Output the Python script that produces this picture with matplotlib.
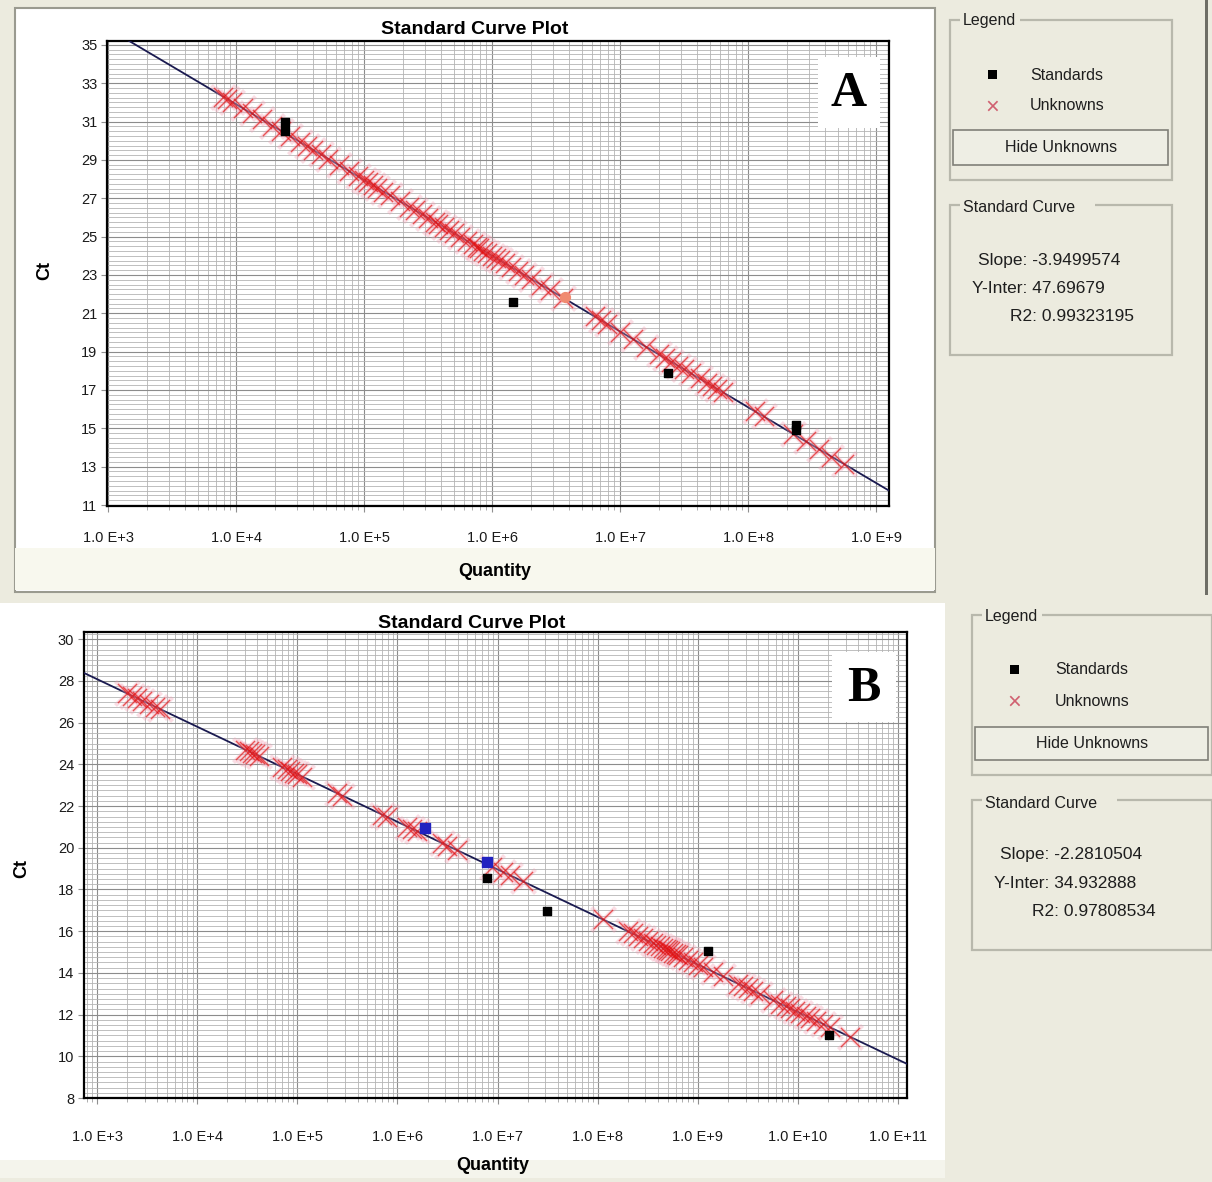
import numpy as np
import matplotlib
matplotlib.use("Agg")
import matplotlib.pyplot as plt
from matplotlib.patches import Rectangle
from matplotlib.ticker import FixedLocator, MultipleLocator, LogLocator, NullFormatter

plt.rcParams['font.family'] = ['Liberation Sans', 'DejaVu Sans']

W, H = 1212, 1182

# ---- panel A data ----
std_a_exp = [4.38, 4.38, 6.16, 7.375, 8.375, 8.375]
std_a_ct = [31.0, 30.5, 21.6, 17.9, 15.2, 14.9]
hl_a_exp = [6.57]
hl_a_ct = [21.85]
unk_a_exp = [3.90, 3.93, 3.97, 4.05, 4.12, 4.20, 4.28, 4.35, 4.42, 4.50, 4.55, 4.60,
             4.66, 4.72, 4.80, 4.88, 4.95, 5.00, 5.03, 5.07, 5.10, 5.15, 5.20, 5.28,
             5.35, 5.40, 5.45, 5.50, 5.55, 5.58, 5.62, 5.66, 5.70, 5.75, 5.80, 5.85,
             5.88, 5.90, 5.93, 5.96, 6.00, 6.03, 6.06, 6.10, 6.15, 6.20, 6.25, 6.30,
             6.38, 6.45, 6.55, 6.80, 6.85, 6.90, 7.00, 7.10, 7.20, 7.30, 7.35, 7.40,
             7.45, 7.50, 7.55, 7.62, 7.68, 7.72, 7.76, 7.80, 8.05, 8.12, 8.35, 8.45,
             8.55, 8.65, 8.75]
unk_a_ct = [32.29, 32.17, 32.01, 31.70, 31.42, 31.11, 30.79, 30.51, 30.24, 29.92, 29.72, 29.53,
            29.29, 29.05, 28.74, 28.42, 28.15, 27.95, 27.83, 27.67, 27.55, 27.35, 27.16, 26.84,
            26.56, 26.37, 26.17, 25.97, 25.77, 25.65, 25.50, 25.34, 25.18, 24.98, 24.79, 24.59,
            24.47, 24.39, 24.27, 24.15, 23.99, 23.88, 23.76, 23.60, 23.40, 23.21, 23.01, 22.81,
            22.50, 22.22, 21.82, 20.84, 20.64, 20.44, 20.05, 19.65, 19.26, 18.86, 18.66, 18.47,
            18.27, 18.07, 17.87, 17.60, 17.36, 17.20, 17.05, 16.89, 15.90, 15.62, 14.71, 14.32,
            13.92, 13.52, 13.13]
slope_a, inter_a, r2_a = -3.9499574, 47.69679, 0.99323195

# ---- panel B data ----
std_b_exp = [6.90, 7.49, 9.10, 10.31]
std_b_ct = [18.57, 16.95, 15.03, 11.0]
sel_b_exp = [6.28, 6.90]
sel_b_ct = [20.97, 19.3]
unk_b_exp = [3.30, 3.35, 3.40, 3.45, 3.52, 3.58, 3.63, 4.48, 4.52, 4.55, 4.58, 4.62,
             4.85, 4.90, 4.93, 4.97, 5.00, 5.05, 5.40, 5.45, 5.85, 5.90, 6.10, 6.15,
             6.20, 6.45, 6.50, 6.60, 6.95, 7.05, 7.12, 7.25, 8.05, 8.30, 8.35, 8.40,
             8.45, 8.50, 8.55, 8.58, 8.62, 8.65, 8.68, 8.70, 8.72, 8.75, 8.78, 8.80,
             8.85, 8.90, 8.95, 9.00, 9.05, 9.15, 9.25, 9.40, 9.45, 9.50, 9.55, 9.62,
             9.75, 9.82, 9.88, 9.92, 9.97, 10.02, 10.08, 10.12, 10.18, 10.25, 10.32, 10.52]
unk_b_ct = [27.41, 27.29, 27.18, 27.06, 26.90, 26.77, 26.65, 24.71, 24.62, 24.55, 24.49, 24.40,
            23.87, 23.76, 23.69, 23.60, 23.53, 23.41, 22.61, 22.50, 21.59, 21.48, 21.02, 20.90,
            20.79, 20.22, 20.11, 19.88, 19.08, 18.85, 18.69, 18.39, 16.57, 16.00, 15.89, 15.77,
            15.66, 15.54, 15.43, 15.36, 15.27, 15.20, 15.13, 15.09, 15.04, 14.97, 14.91, 14.86,
            14.75, 14.63, 14.52, 14.40, 14.29, 14.06, 13.83, 13.49, 13.38, 13.26, 13.15, 12.99,
            12.69, 12.53, 12.40, 12.31, 12.19, 12.08, 11.94, 11.85, 11.71, 11.55, 11.39, 10.94]
slope_b, inter_b, r2_b = -2.2810504, 34.932888, 0.97808534

xtick_exp_a = [3, 4, 5, 6, 7, 8, 9]
xtick_exp_b = [3, 4, 5, 6, 7, 8, 9, 10, 11]
ytick_a = [11, 13, 15, 17, 19, 21, 23, 25, 27, 29, 31, 33, 35]
ytick_b = [8, 10, 12, 14, 16, 18, 20, 22, 24, 26, 28, 30]


def fx(x):
    return x / W


def fy(y):
    return 1 - y / H


def rect(x0, y0, x1, y1, fc, ec="none", lw=1.0, z=0):
    fig.patches.append(Rectangle((fx(x0), fy(y1)), fx(x1 - x0), (y1 - y0) / H,
                                 transform=fig.transFigure, facecolor=fc,
                                 edgecolor=ec, linewidth=lw, zorder=z))


def ftext(x, y, s, **kw):
    fig.text(fx(x), fy(y), s, **kw)


fig = plt.figure(figsize=(W / 100, H / 100), dpi=100)
fig.patch.set_facecolor("#ECEBDF")

# window backgrounds
rect(15, 8, 935, 592, "white", ec="#9A9A90", lw=1.5)
rect(15, 548, 935, 590, "#F8F8EE")
rect(0, 603, 945, 1178, "white")
rect(0, 1160, 945, 1178, "#F4F4EC")
rect(1205, 0, 1208, 595, "#6E6E66")


def draw_panel(rc, xlim, ylim, yticks, xtick_exp, xpad, std_exp, std_ct, unk_exp,
               unk_ct, slope, inter, sel_exp=None, sel_ct=None, sel_color="#2222C0",
               sel_marker="s"):
    ax = fig.add_axes(rc)
    ax.set_zorder(2)
    ax.set_xscale("log")
    ax.set_xlim(10.0 ** xlim[0], 10.0 ** xlim[1])
    ax.set_ylim(*ylim)
    ax.xaxis.set_major_locator(FixedLocator([10.0 ** e for e in xtick_exp]))
    ax.set_xticklabels(["1.0 E+%d" % e for e in xtick_exp])
    ax.xaxis.set_minor_locator(LogLocator(base=10, subs=np.arange(2, 10), numticks=30))
    ax.xaxis.set_minor_formatter(NullFormatter())
    ax.yaxis.set_major_locator(FixedLocator(yticks))
    ax.yaxis.set_minor_locator(MultipleLocator(0.25))
    ax.grid(which="major", color="#8C8C8C", lw=0.8)
    ax.grid(which="minor", color="#B4B4B4", lw=0.6)
    ax.set_axisbelow(True)
    ax.tick_params(which="major", axis="both", length=4, color="#909090",
                   labelsize=10.5, labelcolor="#1A1A1A")
    ax.tick_params(which="major", axis="x", pad=xpad)
    ax.tick_params(which="major", axis="y", pad=3)
    ax.tick_params(which="minor", axis="x", length=3, color="#A0A0A0")
    ax.tick_params(which="minor", axis="y", length=0)
    for s in ax.spines.values():
        s.set_color("black")
        s.set_linewidth(1.6)

    # fitted standard curve
    xl = np.array(xlim)
    ax.plot(10.0 ** xl, slope * xl + inter, color="#1A1A50", lw=1.3, zorder=3)

    uq = 10.0 ** np.array(unk_exp)
    ax.scatter(uq, unk_ct, marker="x", s=300, color="#F2A0B4", alpha=0.35,
               linewidths=3.0, zorder=4)
    ax.scatter(uq, unk_ct, marker="x", s=190, color="#E00A0A", alpha=0.65,
               linewidths=1.0, zorder=5)
    ax.scatter(10.0 ** np.array(std_exp), std_ct, marker="s", s=36, color="black",
               zorder=6)
    if sel_exp is not None:
        ax.scatter(10.0 ** np.array(sel_exp), sel_ct, marker=sel_marker, s=50,
                   color=sel_color, zorder=6)
    return ax


ax_a = draw_panel([fx(107), fy(506), (889 - 107) / W, (506 - 41) / H],
                  (2.99, 9.1), (10.95, 35.2), ytick_a, xtick_exp_a, 14,
                  std_a_exp, std_a_ct, unk_a_exp, unk_a_ct, slope_a, inter_a,
                  hl_a_exp, hl_a_ct, sel_color="#F08A70", sel_marker="o")
ax_b = draw_panel([fx(84), fy(1098), (907 - 84) / W, (1098 - 632) / H],
                  (2.87, 11.09), (8.0, 30.35), ytick_b, xtick_exp_b, 19,
                  std_b_exp, std_b_ct, unk_b_exp, unk_b_ct, slope_b, inter_b,
                  sel_b_exp, sel_b_ct)

# titles and axis labels
title_kw = dict(fontsize=14, fontweight="bold", ha="center", va="center")
ftext(475, 29, "Standard Curve Plot", **title_kw)
ftext(472, 623, "Standard Curve Plot", **title_kw)
lab_kw = dict(fontsize=13, fontweight="bold", ha="center", va="center")
ftext(495, 572, "Quantity", **lab_kw)
ftext(493, 1165, "Quantity", **lab_kw)
ftext(45, 270, "Ct", rotation=90, **lab_kw)
ftext(22, 868, "Ct", rotation=90, **lab_kw)

# panel letters
for x0, y0, x1, y1, s in [(818, 57, 880, 128, "A"), (832, 652, 896, 722, "B")]:
    rect(x0, y0, x1, y1, "white", z=5)
    ftext((x0 + x1) / 2, (y0 + y1) / 2 + 2, s, fontsize=36, fontweight="bold",
          family="Liberation Serif", ha="center", va="center", zorder=6)


# right-hand info boxes
def info_box(x0, x1, ly0, ly1, by0, by1, cy0, cy1, slope, inter, r2, dx):
    box = dict(fc="none", ec="#B8B8AC", lw=1.6)
    tc = "#1E1E1E"
    rect(x0, ly0, x1, ly1, **box)
    rect(x0 + 10, ly0 - 6, x0 + 70, ly0 + 6, "#ECEBDF")
    ftext(x0 + 13, ly0 + 1, "Legend", fontsize=11.5, va="center", color=tc)
    fig.patches.append(Rectangle((fx(x0 + 38), fy(ly0 + 59)), 9 / W, 9 / H,
                                 transform=fig.transFigure, fc="black", ec="none"))
    ftext(x0 + 80 + dx, ly0 + 55, "Standards", fontsize=11.5, va="center", color=tc)
    ftext(x0 + 42, ly0 + 88, "\u00d7", fontsize=17, ha="center", va="center",
          color="#D06070")
    ftext(x0 + 80 + dx, ly0 + 86, "Unknowns", fontsize=11.5, va="center", color=tc)
    rect(x0 + 3, by0, x1 - 4, by1, "#EEEEE4", ec="#808078", lw=1.2)
    ftext((x0 + x1) / 2, (by0 + by1) / 2, "Hide Unknowns", fontsize=11.5,
          ha="center", va="center", color=tc)
    rect(x0, cy0, x1, cy1, **box)
    rect(x0 + 10, cy0 - 6, x0 + 145, cy0 + 6, "#ECEBDF")
    ftext(x0 + 13, cy0 + 3, "Standard Curve", fontsize=11.5, va="center", color=tc)
    ftext(x0 + 28, cy0 + 55, "Slope: %s" % repr(slope), fontsize=12.5, va="center",
          color=tc)
    ftext(x0 + 22, cy0 + 83, "Y-Inter: %s" % repr(inter), fontsize=12.5, va="center",
          color=tc)
    ftext(x0 + 60, cy0 + 111, "R2: %s" % repr(r2), fontsize=12.5, va="center",
          color=tc)


info_box(950, 1172, 20, 180, 130, 165, 205, 355, slope_a, inter_a, r2_a, 0)
info_box(972, 1212, 615, 775, 727, 760, 800, 950, slope_b, inter_b, r2_b, 3)

fig.savefig("out.png", dpi=100, facecolor=fig.get_facecolor())
